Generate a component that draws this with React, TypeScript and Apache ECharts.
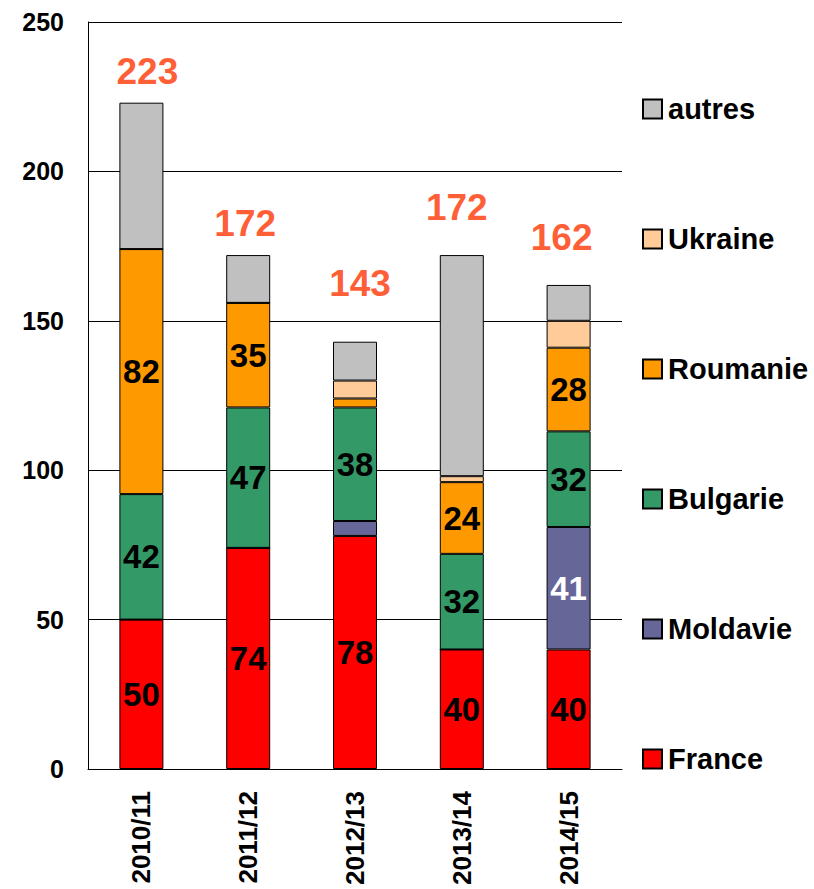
import React, { useEffect, useRef } from "react";
import * as echarts from "echarts";

const categories = ["2010/11", "2011/12", "2012/13", "2013/14", "2014/15"];
const france = [50, 74, 78, 40, 40];
const moldavie = [0, 0, 5, 0, 41];
const bulgarie = [42, 47, 38, 32, 32];
const roumanie = [82, 35, 3, 24, 28];
const ukraine = [0, 0, 6, 2, 9];
const autres = [49, 16, 13, 74, 12];
const totals = [223, 172, 143, 172, 162];
const totalOffsets = [
  [6, -31],
  [-3, -32],
  [5, -58],
  [-5, -48],
  [-7, -47],
];

const FONT = "'Liberation Sans', Arial, sans-serif";

export default function App() {
  const ref = useRef<HTMLDivElement>(null);
  useEffect(() => {
    if (!ref.current) return;
    const chart = echarts.init(ref.current, null, { renderer: "svg" });
    const segLabel = (color: string) => ({
      show: true,
      position: "inside",
      color,
      fontSize: 33,
      fontWeight: "bold",
      fontFamily: FONT,
      formatter: (p: any) => (p.value >= 20 ? String(p.value) : ""),
    });
    const mk = (name: string, data: number[], color: string, label: any) => ({
      name,
      type: "bar",
      stack: "s",
      barWidth: 44,
      data,
      itemStyle: { color, borderColor: "#000", borderWidth: 1 },
      label,
    });
    chart.setOption({
      animation: false,
      textStyle: { fontFamily: FONT },
      grid: { left: 88, right: 192, top: 22, bottom: 120 },
      legend: {
        orient: "vertical",
        left: 637,
        top: 89,
        itemWidth: 19,
        itemHeight: 19,
        itemGap: 100,
        icon: "rect",
        selectedMode: false,
        data: ["autres", "Ukraine", "Roumanie", "Bulgarie", "Moldavie", "France"],
        textStyle: {
          fontSize: 29,
          fontWeight: "bold",
          color: "#000",
          fontFamily: FONT,
          lineHeight: 30,
          padding: [0, 0, 0, 1],
        },
      },
      xAxis: {
        type: "category",
        data: categories,
        axisTick: { show: false },
        axisLine: { lineStyle: { color: "#000", width: 1 } },
        axisLabel: {
          rotate: 90,
          margin: 22,
          fontSize: 26,
          fontWeight: "bold",
          color: "#000",
          fontFamily: FONT,
        },
      },
      yAxis: {
        type: "value",
        min: 0,
        max: 250,
        interval: 50,
        axisLine: { show: true, lineStyle: { color: "#000", width: 1 } },
        axisTick: { show: false },
        splitLine: { lineStyle: { color: "#000", width: 1 } },
        axisLabel: {
          margin: 24,
          fontSize: 25,
          fontWeight: "bold",
          color: "#000",
          fontFamily: FONT,
        },
      },
      series: [
        mk("France", france, "#FF0000", segLabel("#000")),
        mk("Moldavie", moldavie, "#666699", segLabel("#fff")),
        mk("Bulgarie", bulgarie, "#339966", segLabel("#000")),
        mk("Roumanie", roumanie, "#FF9900", segLabel("#000")),
        mk("Ukraine", ukraine, "#FFCC99", { show: false }),
        mk("autres", autres, "#C0C0C0", { show: false }),
        {
          name: "total",
          type: "scatter",
          symbolSize: 0,
          data: totals.map((v, i) => ({
            value: v,
            label: { offset: totalOffsets[i] },
          })),
          label: {
            show: true,
            position: "inside",
            color: "#FF3300",
            fontSize: 37,
            fontWeight: "bold",
            fontFamily: FONT,
          },
          silent: true,
        },
      ],
    });
    return () => chart.dispose();
  }, []);
  return (
    <div
      ref={ref}
      style={{ position: "fixed", left: 0, top: 0, width: 814, height: 889, background: "#fff" }}
    />
  );
}
